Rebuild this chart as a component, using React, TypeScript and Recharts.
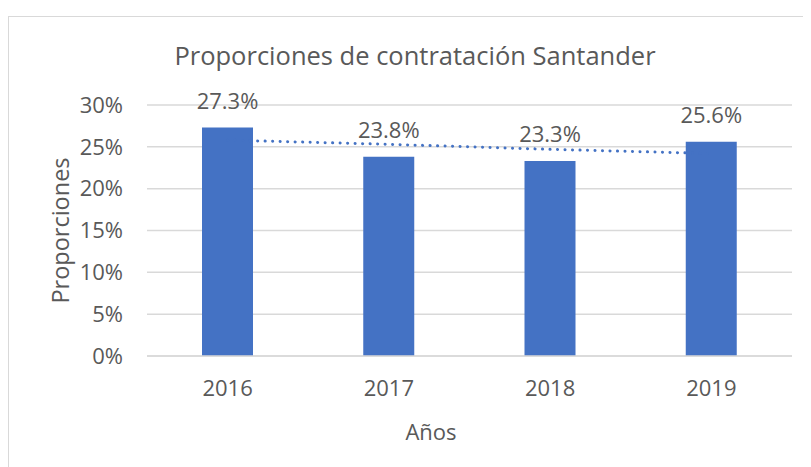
import React from 'react';
import {
  ComposedChart,
  Bar,
  Line,
  XAxis,
  YAxis,
  CartesianGrid,
  LabelList,
} from 'recharts';

// years on the x axis
const years = ['2016', '2017', '2018', '2019'];
// hiring proportion per year (%)
const proportions = [27.3, 23.8, 23.3, 25.6];
// linear trend line (%)
const trend = [25.8, 25.3, 24.7, 24.2];
const yTicks = [0, 5, 10, 15, 20, 25, 30];

const data = years.map((year, i) => ({
  year,
  value: proportions[i],
  trend: trend[i],
}));

const FONT = "'Open Sans', 'Noto Sans', sans-serif";
const TEXT = '#595959';
const BLUE = '#4472C4';
const GRID = '#d9d9d9';

const YTitle = (props: any) => {
  const vb = props.viewBox || { y: 88, height: 251 };
  const cx = 51;
  const cy = vb.y + vb.height / 2;
  return (
    <text
      x={cx}
      y={cy}
      transform={`rotate(-90 ${cx} ${cy})`}
      textAnchor="middle"
      dominantBaseline="central"
      fill={TEXT}
      fontSize={23.5}
      fontFamily={FONT}
    >
      Proporciones
    </text>
  );
};

export default function App() {
  return (
    <div style={{ paddingTop: 8 }}>
      <div
        style={{
          position: 'relative',
          width: 803,
          height: 451,
          borderTop: `1.5px solid ${GRID}`,
          borderLeft: `1.5px solid ${GRID}`,
          fontFamily: FONT,
          color: TEXT,
        }}
      >
        <div
          style={{
            position: 'absolute',
            left: 106,
            top: 21,
            width: 600,
            lineHeight: '34px',
            textAlign: 'center',
            fontSize: 25.5,
          }}
        >
          Proporciones de contratación Santander
        </div>
        <div
          style={{
            position: 'absolute',
            left: 322,
            top: 399,
            width: 200,
            lineHeight: '30px',
            textAlign: 'center',
            fontSize: 22,
          }}
        >
          Años
        </div>
        <div style={{ position: 'absolute', left: 0, top: 0 }}>
          <ComposedChart
            width={802}
            height={450}
            data={data}
            margin={{ top: 88, right: 19, bottom: 51, left: 0 }}
          >
            <CartesianGrid vertical={false} stroke={GRID} strokeWidth={1.5} />
            <XAxis
              dataKey="year"
              height={60}
              axisLine={{ stroke: GRID, strokeWidth: 1.5 }}
              tickLine={false}
              tickSize={6}
              tickMargin={18}
              tick={{ fill: TEXT, fontSize: 22, fontFamily: FONT }}
            />
            <YAxis
              width={138}
              domain={[0, 30]}
              ticks={yTicks}
              tickFormatter={(v: number) => `${v}%`}
              axisLine={false}
              tickLine={false}
              tickSize={6}
              tickMargin={18}
              tick={{ fill: TEXT, fontSize: 22, fontFamily: FONT }}
              label={<YTitle />}
            />
            <Line
              dataKey="trend"
              type="linear"
              stroke={BLUE}
              strokeWidth={3}
              strokeDasharray="0.1 7.4"
              strokeLinecap="round"
              dot={false}
              activeDot={false}
              isAnimationActive={false}
            />
            <Bar dataKey="value" fill={BLUE} barSize={51} isAnimationActive={false}>
              <LabelList
                dataKey="value"
                position="top"
                offset={19}
                formatter={(v: any) => `${Number(v).toFixed(1)}%`}
                fill={TEXT}
                fontSize={22}
                fontFamily={FONT}
              />
            </Bar>
          </ComposedChart>
        </div>
      </div>
    </div>
  );
}
